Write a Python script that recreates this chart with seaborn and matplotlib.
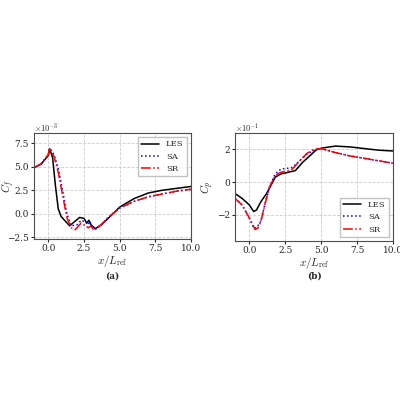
import numpy as np
import pandas as pd
import matplotlib
matplotlib.use("Agg")
import matplotlib.pyplot as plt
import seaborn as sns

sns.set_style("ticks")
plt.rcParams['font.family'] = ['DejaVu Serif']
plt.rcParams['mathtext.fontset'] = 'cm'
plt.rcParams['font.size'] = 7

# Skin friction (x1e-3)
cf_les_x = [-1, -0.5, 0, 0.1, 0.3, 0.5, 0.7, 0.9, 1.2, 1.5, 1.8, 2.2, 2.5, 2.7, 2.85, 3.0, 3.3, 3.7, 4.2, 5, 6, 7, 8, 9, 10]
cf_les_y = [4.9, 5.3, 6.2, 6.9, 6.0, 3.0, 0.5, -0.3, -0.8, -1.3, -0.9, -0.4, -0.5, -1.0, -0.7, -1.2, -1.6, -1.2, -0.5, 0.7, 1.6, 2.2, 2.5, 2.7, 2.9]
cf_sa_x = [-1, -0.5, 0, 0.1, 0.4, 0.7, 1.0, 1.3, 1.6, 2.0, 2.3, 2.6, 2.8, 2.9, 3.1, 3.3, 3.7, 4.2, 5, 6, 7, 8, 9, 10]
cf_sa_y = [4.9, 5.3, 6.3, 7.0, 6.3, 4.8, 2.5, 0.0, -1.3, -1.2, -0.7, -0.9, -1.2, -0.8, -1.5, -1.6, -1.2, -0.4, 0.6, 1.3, 1.8, 2.1, 2.4, 2.6]
cf_sr_x = [-1, -0.5, 0, 0.1, 0.4, 0.7, 1.0, 1.3, 1.6, 1.9, 2.3, 2.6, 2.8, 3.0, 3.2, 3.7, 4.2, 5, 6, 7, 8, 9, 10]
cf_sr_y = [4.9, 5.3, 6.3, 7.0, 6.1, 4.4, 2.0, -0.4, -1.5, -1.7, -1.0, -1.3, -1.5, -1.3, -1.8, -1.2, -0.4, 0.6, 1.3, 1.8, 2.1, 2.4, 2.6]

# Pressure coefficient (x1e-1)
cp_les_x = [-1, -0.5, 0, 0.3, 0.5, 0.8, 1.2, 1.5, 1.8, 2.2, 2.7, 3.2, 3.7, 4.2, 4.7, 5.2, 6, 7, 8, 9, 10]
cp_les_y = [-0.7, -1.0, -1.4, -1.8, -1.7, -1.2, -0.7, -0.2, 0.3, 0.5, 0.6, 0.7, 1.2, 1.6, 2.0, 2.1, 2.2, 2.15, 2.05, 1.95, 1.9]
cp_sa_x = [-1, -0.5, 0, 0.3, 0.5, 0.8, 1.1, 1.4, 1.8, 2.2, 2.7, 3.0, 3.5, 4, 4.5, 5, 6, 7, 8, 9, 10]
cp_sa_y = [-1.0, -1.4, -2.2, -2.8, -2.8, -2.4, -1.3, -0.3, 0.5, 0.8, 0.85, 0.9, 1.3, 1.7, 1.95, 2.05, 1.8, 1.6, 1.45, 1.3, 1.15]
cp_sr_x = [-1, -0.5, 0, 0.4, 0.6, 0.8, 1.1, 1.4, 1.8, 2.2, 2.7, 3.0, 3.5, 4, 4.5, 5, 6, 7, 8, 9, 10]
cp_sr_y = [-1.0, -1.4, -2.2, -2.9, -2.8, -2.4, -1.3, -0.3, 0.4, 0.6, 0.7, 0.8, 1.3, 1.75, 2.0, 2.05, 1.8, 1.6, 1.45, 1.3, 1.15]

styles = dict(LES=dict(color="black", ls="-", lw=1.1),
              SA=dict(color="blue", ls=":", lw=1.1),
              SR=dict(color="red", ls="-.", lw=1.1))

fig = plt.figure(figsize=(4, 4), dpi=100)
axA = fig.add_axes([34/400, 1-239/400, 157/400, 106/400])
axB = fig.add_axes([235/400, 1-241/400, 158/400, 108/400])

def draw(ax, series, ylim, ylab, exp, loc):
    for name, xs, ys in series:
        df = pd.DataFrame({"x": xs, "y": ys})
        sns.lineplot(data=df, x="x", y="y", ax=ax, sort=False, label=name, **styles[name])
    ax.set_xlim(-1, 10)
    ax.set_ylim(*ylim)
    ax.set_xticks([0, 2.5, 5, 7.5, 10])
    ax.set_xticklabels(["0.0", "2.5", "5.0", "7.5", "10.0"])
    ax.set_xlabel(r"$x/L_{\rm ref}$", fontsize=8, labelpad=0)
    ax.set_ylabel(ylab, fontsize=8, labelpad=1)
    ax.grid(True, ls="--", color="0.8", lw=0.6)
    for s in ax.spines.values():
        s.set_color("0.3")
    ax.text(0, 1.02, exp, transform=ax.transAxes, fontsize=6)
    ax.legend(loc=loc, fontsize=6, frameon=True, fancybox=False, edgecolor="0.7", handlelength=2.2)
    ax.tick_params(labelsize=6.5, length=2, pad=1.5)

draw(axA, [("LES", cf_les_x, cf_les_y), ("SA", cf_sa_x, cf_sa_y), ("SR", cf_sr_x, cf_sr_y)],
     (-2.7, 8.6), r"$C_f$", r"$\times10^{-3}$", "upper right")
axA.set_yticks([-2.5, 0, 2.5, 5, 7.5])
axA.set_yticklabels(["−2.5", "0.0", "2.5", "5.0", "7.5"])
axA.yaxis.set_label_coords(-0.11, 0.5)
draw(axB, [("LES", cp_les_x, cp_les_y), ("SA", cp_sa_x, cp_sa_y), ("SR", cp_sr_x, cp_sr_y)],
     (-3.6, 3.0), r"$C_p$", r"$\times10^{-1}$", "lower right")
axB.set_yticks([-2, 0, 2])
axB.set_yticklabels(["−2", "0", "2"])

fig.text(112/400, 1-279/400, "(a)", ha="center", fontsize=6.5, fontweight="bold")
fig.text(314/400, 1-279/400, "(b)", ha="center", fontsize=6.5, fontweight="bold")
fig.savefig("out.png", dpi=100)
